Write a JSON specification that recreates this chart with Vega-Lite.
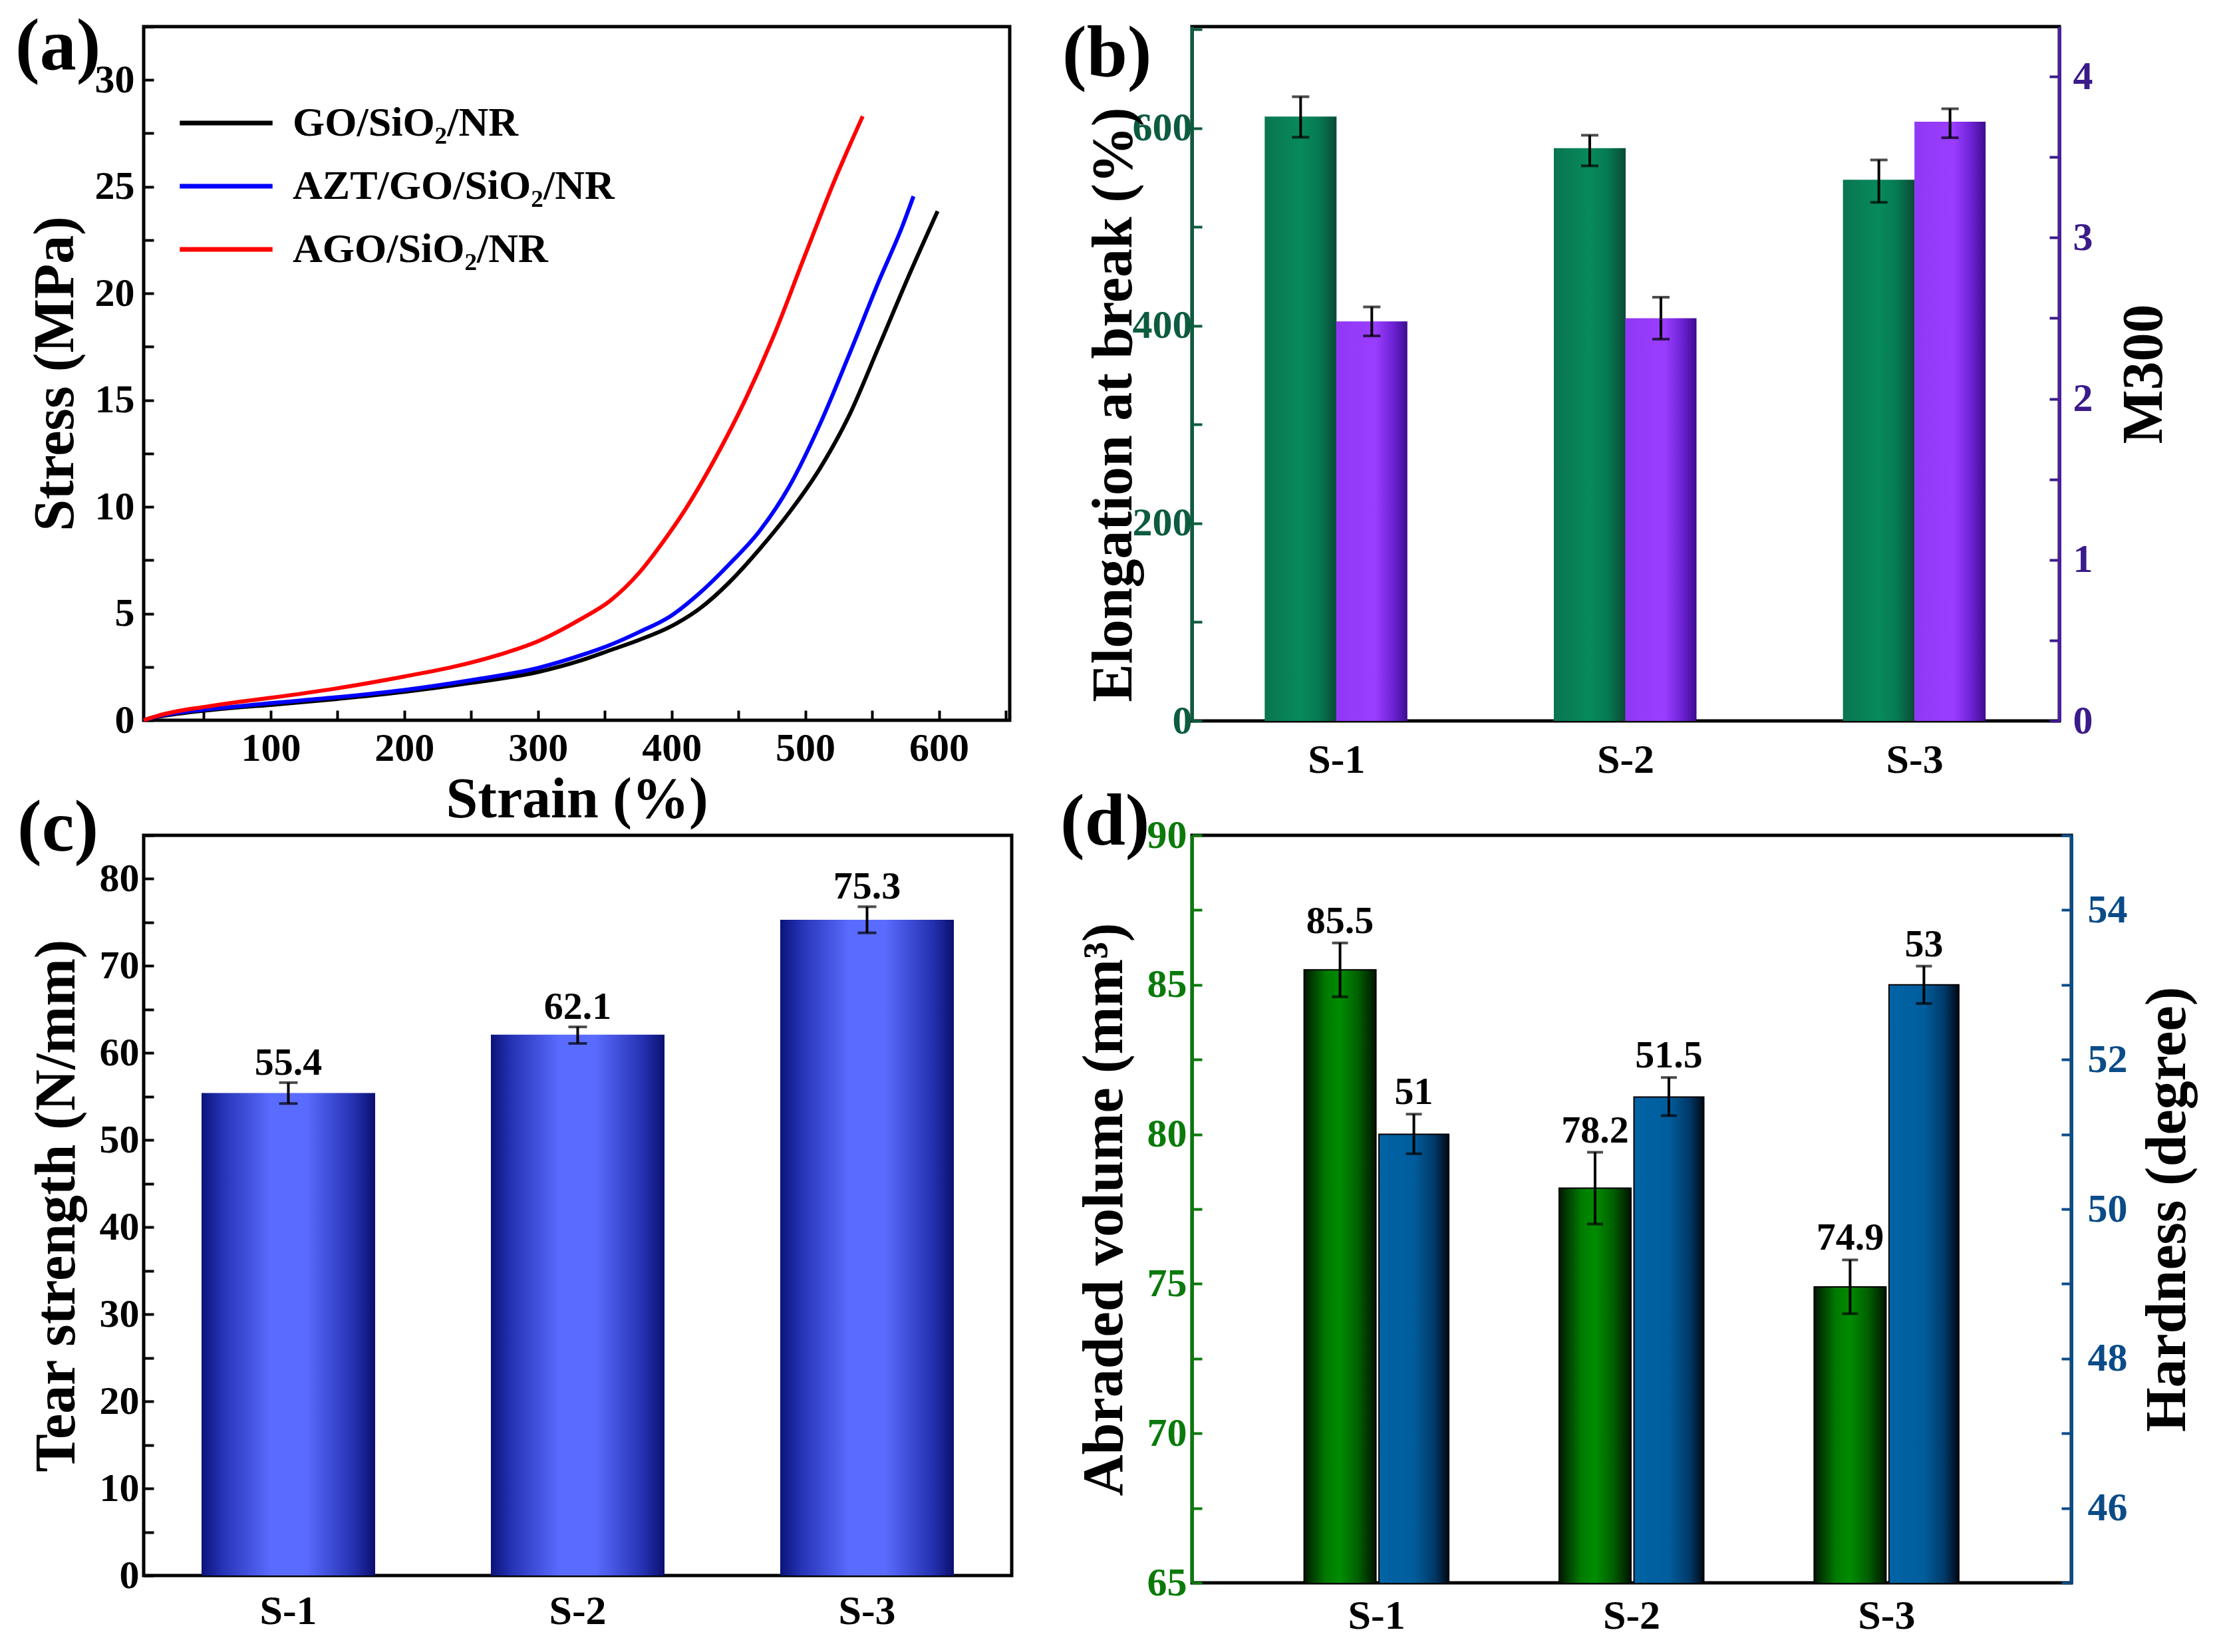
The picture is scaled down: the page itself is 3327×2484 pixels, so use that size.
{
  "$schema": "https://vega.github.io/schema/vega-lite/v6.json",
  "background": "white",
  "padding": {"left": 20, "top": 7, "right": 20, "bottom": 10},
  "bounds": "flush",
  "columns": 2,
  "spacing": {"row": 172, "column": 271},
  "config": {
    "font": "Liberation Serif",
    "view": {"stroke": "black", "strokeWidth": 5},
    "axis": {
      "labelFont": "Liberation Serif", "labelFontWeight": "bold", "labelFontSize": 60, "labelColor": "black",
      "titleFont": "Liberation Serif", "titleFontWeight": "bold", "titleFontSize": 86, "titleColor": "black",
      "grid": false, "tickColor": "black", "tickWidth": 4, "tickSize": -15, "domain": false,
      "labelOverlap": false, "labelFlush": false
    },
    "title": {"font": "Liberation Serif", "fontWeight": "bold", "fontSize": 110, "anchor": "start", "frame": "group", "baseline": "alphabetic", "offset": 0, "color": "black"}
  },
  "concat": [
    {
      "width": 1302, "height": 1043,
      "title": {"text": "(a)", "dx": -193, "dy": 121},
      "data": {"values": [
        {"sample": "GO/SiO₂/NR", "strain": 5, "stress": 0},
        {"sample": "GO/SiO₂/NR", "strain": 15, "stress": 0.15},
        {"sample": "GO/SiO₂/NR", "strain": 30, "stress": 0.3},
        {"sample": "GO/SiO₂/NR", "strain": 50, "stress": 0.45},
        {"sample": "GO/SiO₂/NR", "strain": 75, "stress": 0.6},
        {"sample": "GO/SiO₂/NR", "strain": 100, "stress": 0.72},
        {"sample": "GO/SiO₂/NR", "strain": 150, "stress": 1.0},
        {"sample": "GO/SiO₂/NR", "strain": 200, "stress": 1.33},
        {"sample": "GO/SiO₂/NR", "strain": 250, "stress": 1.75},
        {"sample": "GO/SiO₂/NR", "strain": 300, "stress": 2.26},
        {"sample": "GO/SiO₂/NR", "strain": 332, "stress": 2.8},
        {"sample": "GO/SiO₂/NR", "strain": 354, "stress": 3.28},
        {"sample": "GO/SiO₂/NR", "strain": 376, "stress": 3.77},
        {"sample": "GO/SiO₂/NR", "strain": 399, "stress": 4.38},
        {"sample": "GO/SiO₂/NR", "strain": 421, "stress": 5.23},
        {"sample": "GO/SiO₂/NR", "strain": 443, "stress": 6.45},
        {"sample": "GO/SiO₂/NR", "strain": 466, "stress": 8.03},
        {"sample": "GO/SiO₂/NR", "strain": 488, "stress": 9.73},
        {"sample": "GO/SiO₂/NR", "strain": 511, "stress": 11.8},
        {"sample": "GO/SiO₂/NR", "strain": 533, "stress": 14.3},
        {"sample": "GO/SiO₂/NR", "strain": 555, "stress": 17.5},
        {"sample": "GO/SiO₂/NR", "strain": 578, "stress": 20.9},
        {"sample": "GO/SiO₂/NR", "strain": 599, "stress": 23.85},
        {"sample": "AZT/GO/SiO₂/NR", "strain": 5, "stress": 0},
        {"sample": "AZT/GO/SiO₂/NR", "strain": 15, "stress": 0.18},
        {"sample": "AZT/GO/SiO₂/NR", "strain": 30, "stress": 0.35},
        {"sample": "AZT/GO/SiO₂/NR", "strain": 50, "stress": 0.5},
        {"sample": "AZT/GO/SiO₂/NR", "strain": 75, "stress": 0.65},
        {"sample": "AZT/GO/SiO₂/NR", "strain": 100, "stress": 0.8},
        {"sample": "AZT/GO/SiO₂/NR", "strain": 150, "stress": 1.08},
        {"sample": "AZT/GO/SiO₂/NR", "strain": 200, "stress": 1.42},
        {"sample": "AZT/GO/SiO₂/NR", "strain": 250, "stress": 1.88},
        {"sample": "AZT/GO/SiO₂/NR", "strain": 300, "stress": 2.45},
        {"sample": "AZT/GO/SiO₂/NR", "strain": 332, "stress": 3.04},
        {"sample": "AZT/GO/SiO₂/NR", "strain": 354, "stress": 3.53},
        {"sample": "AZT/GO/SiO₂/NR", "strain": 376, "stress": 4.14},
        {"sample": "AZT/GO/SiO₂/NR", "strain": 399, "stress": 4.87},
        {"sample": "AZT/GO/SiO₂/NR", "strain": 421, "stress": 5.96},
        {"sample": "AZT/GO/SiO₂/NR", "strain": 443, "stress": 7.3},
        {"sample": "AZT/GO/SiO₂/NR", "strain": 466, "stress": 8.88},
        {"sample": "AZT/GO/SiO₂/NR", "strain": 488, "stress": 10.95},
        {"sample": "AZT/GO/SiO₂/NR", "strain": 511, "stress": 13.87},
        {"sample": "AZT/GO/SiO₂/NR", "strain": 533, "stress": 17.15},
        {"sample": "AZT/GO/SiO₂/NR", "strain": 555, "stress": 20.56},
        {"sample": "AZT/GO/SiO₂/NR", "strain": 573, "stress": 23.2},
        {"sample": "AZT/GO/SiO₂/NR", "strain": 581, "stress": 24.55},
        {"sample": "AGO/SiO₂/NR", "strain": 5, "stress": 0},
        {"sample": "AGO/SiO₂/NR", "strain": 15, "stress": 0.2},
        {"sample": "AGO/SiO₂/NR", "strain": 30, "stress": 0.42},
        {"sample": "AGO/SiO₂/NR", "strain": 50, "stress": 0.62},
        {"sample": "AGO/SiO₂/NR", "strain": 75, "stress": 0.85},
        {"sample": "AGO/SiO₂/NR", "strain": 100, "stress": 1.05},
        {"sample": "AGO/SiO₂/NR", "strain": 150, "stress": 1.5},
        {"sample": "AGO/SiO₂/NR", "strain": 200, "stress": 2.05},
        {"sample": "AGO/SiO₂/NR", "strain": 240, "stress": 2.55},
        {"sample": "AGO/SiO₂/NR", "strain": 270, "stress": 3.05},
        {"sample": "AGO/SiO₂/NR", "strain": 300, "stress": 3.7},
        {"sample": "AGO/SiO₂/NR", "strain": 332, "stress": 4.74},
        {"sample": "AGO/SiO₂/NR", "strain": 354, "stress": 5.6},
        {"sample": "AGO/SiO₂/NR", "strain": 376, "stress": 6.93},
        {"sample": "AGO/SiO₂/NR", "strain": 394, "stress": 8.39},
        {"sample": "AGO/SiO₂/NR", "strain": 410, "stress": 9.85},
        {"sample": "AGO/SiO₂/NR", "strain": 432, "stress": 12.2},
        {"sample": "AGO/SiO₂/NR", "strain": 455, "stress": 15.0},
        {"sample": "AGO/SiO₂/NR", "strain": 477, "stress": 18.1},
        {"sample": "AGO/SiO₂/NR", "strain": 499, "stress": 21.65},
        {"sample": "AGO/SiO₂/NR", "strain": 522, "stress": 25.3},
        {"sample": "AGO/SiO₂/NR", "strain": 543, "stress": 28.3}
      ]},
      "mark": {"type": "line", "strokeWidth": 6, "interpolate": "monotone"},
      "encoding": {
        "x": {"field": "strain", "type": "quantitative",
          "scale": {"domain": [5, 653], "nice": false, "zero": false},
          "axis": {"title": "Strain (%)", "values": [50, 100, 150, 200, 250, 300, 350, 400, 450, 500, 550, 600, 650],
            "labelExpr": "datum.value % 100 === 0 ? datum.label : ''", "labelPadding": 28, "titlePadding": 5}},
        "y": {"field": "stress", "type": "quantitative",
          "scale": {"domain": [0, 32.5], "nice": false},
          "axis": {"title": "Stress (MPa)", "values": [0, 2.5, 5, 7.5, 10, 12.5, 15, 17.5, 20, 22.5, 25, 27.5, 30, 32.5],
            "labelExpr": "datum.value % 5 === 0 ? datum.label : ''", "labelPadding": 29, "titlePadding": 15}},
        "color": {"field": "sample", "type": "nominal",
          "scale": {"domain": ["GO/SiO₂/NR", "AZT/GO/SiO₂/NR", "AGO/SiO₂/NR"], "range": ["#000000", "#0000ff", "#ff0000"]},
          "legend": {"title": null, "orient": "none", "legendX": 51, "legendY": 95, "padding": 0,
            "symbolType": "M-1.5,0H1.5", "symbolSize": 8649, "symbolStrokeWidth": 7, "symbolOffset": 23,
            "labelOffset": 50, "rowPadding": 14, "labelLimit": 0,
            "labelFont": "Liberation Serif", "labelFontWeight": "bold", "labelFontSize": 62, "labelColor": "black"}}
      }
    },
    {
      "width": 1304, "height": 1044,
      "title": {"text": "(b)", "dx": -195, "dy": 128},
      "data": {"values": [
        {"sample": "S-1", "prop": "EB", "v": 612, "lo": 591, "hi": 632},
        {"sample": "S-1", "prop": "M300", "v": 2.48, "lo": 2.39, "hi": 2.57},
        {"sample": "S-2", "prop": "EB", "v": 580, "lo": 562, "hi": 593},
        {"sample": "S-2", "prop": "M300", "v": 2.5, "lo": 2.37, "hi": 2.63},
        {"sample": "S-3", "prop": "EB", "v": 548, "lo": 525, "hi": 568},
        {"sample": "S-3", "prop": "M300", "v": 3.72, "lo": 3.62, "hi": 3.8}
      ]},
      "encoding": {
        "x": {"field": "sample", "type": "nominal", "scale": {"paddingInner": 0.5, "paddingOuter": 0.25},
          "axis": {"title": null, "labelAngle": 0, "ticks": false, "labelFontSize": 62, "labelPadding": 28}}
      },
      "layer": [
        {
          "transform": [{"filter": "datum.prop === 'EB'"}],
          "layer": [
            {"mark": {"type": "bar", "width": 108, "xOffset": -54, "fill": {"gradient": "linear", "x1": 0, "y1": 0, "x2": 1, "y2": 0,
              "stops": [{"offset": 0, "color": "#0a7550"}, {"offset": 0.5, "color": "#078a5c"}, {"offset": 0.75, "color": "#067a52"}, {"offset": 1, "color": "#0a4a35"}]}},
             "encoding": {"y": {"field": "v", "type": "quantitative", "scale": {"domain": [0, 703], "nice": false},
               "axis": {"title": "Elongation at break (%)", "orient": "left", "values": [0, 100, 200, 300, 400, 500, 600, 700],
                 "labelExpr": "datum.value % 200 === 0 ? datum.label : ''", "labelColor": "#0d5c3f", "tickColor": "#0d5c3f",
                 "domain": true, "domainColor": "#0d5c3f", "domainWidth": 5, "labelPadding": 15, "titlePadding": -16, "titleY": 568}}}},
            {"mark": {"type": "rule", "strokeWidth": 4, "color": "black", "xOffset": -54},
             "encoding": {"y": {"field": "lo", "type": "quantitative"}, "y2": {"field": "hi"}}},
            {"mark": {"type": "tick", "thickness": 4, "size": 26, "color": "black", "xOffset": -54},
             "encoding": {"y": {"field": "lo", "type": "quantitative"}}},
            {"mark": {"type": "tick", "thickness": 4, "size": 26, "color": "black", "xOffset": -54},
             "encoding": {"y": {"field": "hi", "type": "quantitative"}}}
          ]
        },
        {
          "transform": [{"filter": "datum.prop === 'M300'"}],
          "layer": [
            {"mark": {"type": "bar", "width": 107, "xOffset": 53, "fill": {"gradient": "linear", "x1": 0, "y1": 0, "x2": 1, "y2": 0,
              "stops": [{"offset": 0, "color": "#9038f5"}, {"offset": 0.55, "color": "#9a3dff"}, {"offset": 0.8, "color": "#6d22d4"}, {"offset": 1, "color": "#3d0c8e"}]}},
             "encoding": {"y": {"field": "v", "type": "quantitative", "scale": {"domain": [0, 4.31], "nice": false},
               "axis": {"title": "M300", "orient": "right", "values": [0, 0.5, 1, 1.5, 2, 2.5, 3, 3.5, 4],
                 "labelExpr": "datum.value % 1 === 0 ? format(datum.value, 'd') : ''", "labelColor": "#3b1a8a", "tickColor": "#3b1a8a",
                 "domain": true, "domainColor": "#4a1f9e", "domainWidth": 5, "labelPadding": 35, "titlePadding": 35,
                 "titleAngle": -90, "titleBaseline": "top"}}}},
            {"mark": {"type": "rule", "strokeWidth": 4, "color": "black", "xOffset": 53},
             "encoding": {"y": {"field": "lo", "type": "quantitative"}, "y2": {"field": "hi"}}},
            {"mark": {"type": "tick", "thickness": 4, "size": 26, "color": "black", "xOffset": 53},
             "encoding": {"y": {"field": "lo", "type": "quantitative"}}},
            {"mark": {"type": "tick", "thickness": 4, "size": 26, "color": "black", "xOffset": 53},
             "encoding": {"y": {"field": "hi", "type": "quantitative"}}}
          ]
        }
      ],
      "resolve": {"scale": {"y": "independent"}, "axis": {"y": "independent"}}
    },
    {
      "width": 1305, "height": 1113,
      "title": {"text": "(c)", "dx": -190, "dy": 80},
      "data": {"values": [
        {"sample": "S-1", "v": 55.4, "lo": 54.2, "hi": 56.6},
        {"sample": "S-2", "v": 62.1, "lo": 61.1, "hi": 63.0},
        {"sample": "S-3", "v": 75.3, "lo": 73.8, "hi": 76.8}
      ]},
      "encoding": {
        "x": {"field": "sample", "type": "nominal", "scale": {"paddingInner": 0.4, "paddingOuter": 0.2},
          "axis": {"title": null, "labelAngle": 0, "ticks": false, "labelFontSize": 62, "labelPadding": 23}}
      },
      "layer": [
        {"mark": {"type": "bar", "fill": {"gradient": "linear", "x1": 0, "y1": 0, "x2": 1, "y2": 0,
          "stops": [{"offset": 0, "color": "#0b137a"}, {"offset": 0.12, "color": "#2533b5"}, {"offset": 0.4, "color": "#5a6cff"}, {"offset": 0.6, "color": "#5a6cff"}, {"offset": 0.88, "color": "#2430b0"}, {"offset": 1, "color": "#0a0f6e"}]}},
         "encoding": {"y": {"field": "v", "type": "quantitative", "scale": {"domain": [0, 85], "nice": false},
           "axis": {"title": "Tear strength (N/mm)", "values": [0, 5, 10, 15, 20, 25, 30, 35, 40, 45, 50, 55, 60, 65, 70, 75, 80, 85],
             "labelExpr": "datum.value % 10 === 0 ? datum.label : ''", "labelPadding": 22, "titlePadding": 20}}}},
        {"mark": {"type": "rule", "strokeWidth": 4, "color": "black"},
         "encoding": {"y": {"field": "lo", "type": "quantitative"}, "y2": {"field": "hi"}}},
        {"mark": {"type": "tick", "thickness": 4, "size": 28, "color": "black"},
         "encoding": {"y": {"field": "lo", "type": "quantitative"}}},
        {"mark": {"type": "tick", "thickness": 4, "size": 28, "color": "black"},
         "encoding": {"y": {"field": "hi", "type": "quantitative"}}},
        {"mark": {"type": "text", "font": "Liberation Serif", "fontWeight": "bold", "fontSize": 58, "baseline": "alphabetic", "dy": -12, "color": "black"},
         "encoding": {"y": {"field": "hi", "type": "quantitative"}, "text": {"field": "v", "type": "nominal"}}}
      ]
    },
    {
      "width": 1322, "height": 1124,
      "title": {"text": "(d)", "dx": -198, "dy": 71},
      "data": {"values": [
        {"sample": "S-1", "prop": "abr", "v": 85.5, "lo": 84.6, "hi": 86.4},
        {"sample": "S-1", "prop": "hard", "v": 51, "lo": 50.74, "hi": 51.27},
        {"sample": "S-2", "prop": "abr", "v": 78.2, "lo": 77.0, "hi": 79.4},
        {"sample": "S-2", "prop": "hard", "v": 51.5, "lo": 51.25, "hi": 51.76},
        {"sample": "S-3", "prop": "abr", "v": 74.9, "lo": 74.0, "hi": 75.8},
        {"sample": "S-3", "prop": "hard", "v": 53, "lo": 52.75, "hi": 53.25}
      ]},
      "encoding": {
        "x": {"field": "sample", "type": "nominal", "scale": {"paddingInner": 0.4, "paddingOuter": 0.424},
          "axis": {"title": null, "labelAngle": 0, "ticks": false, "labelFontSize": 62, "labelPadding": 19}}
      },
      "layer": [
        {
          "transform": [{"filter": "datum.prop === 'abr'"}],
          "layer": [
            {"mark": {"type": "bar", "clip": true, "width": 108, "xOffset": -55, "stroke": "black", "strokeWidth": 2, "fill": {"gradient": "linear", "x1": 0, "y1": 0, "x2": 1, "y2": 0,
              "stops": [{"offset": 0, "color": "#001800"}, {"offset": 0.3, "color": "#007a00"}, {"offset": 0.5, "color": "#008c00"}, {"offset": 0.75, "color": "#006000"}, {"offset": 1, "color": "#001400"}]}},
             "encoding": {"y": {"field": "v", "type": "quantitative", "scale": {"domain": [65, 90], "nice": false, "zero": false},
               "axis": {"title": "Abraded volume (mm³)", "orient": "left", "values": [65, 67.5, 70, 72.5, 75, 77.5, 80, 82.5, 85, 87.5, 90],
                 "labelExpr": "datum.value % 5 === 0 ? datum.label : ''", "labelColor": "#0b7a0b", "tickColor": "#0b7a0b",
                 "domain": true, "domainColor": "#0b7a0b", "domainWidth": 5, "labelPadding": 23, "titlePadding": 20}}}},
            {"mark": {"type": "rule", "strokeWidth": 4, "color": "black", "xOffset": -55},
             "encoding": {"y": {"field": "lo", "type": "quantitative"}, "y2": {"field": "hi"}}},
            {"mark": {"type": "tick", "thickness": 4, "size": 24, "color": "black", "xOffset": -55},
             "encoding": {"y": {"field": "lo", "type": "quantitative"}}},
            {"mark": {"type": "tick", "thickness": 4, "size": 24, "color": "black", "xOffset": -55},
             "encoding": {"y": {"field": "hi", "type": "quantitative"}}}
          ]
        },
        {
          "transform": [{"filter": "datum.prop === 'hard'"}],
          "layer": [
            {"mark": {"type": "bar", "clip": true, "width": 105, "xOffset": 56, "stroke": "black", "strokeWidth": 2, "fill": {"gradient": "linear", "x1": 0, "y1": 0, "x2": 1, "y2": 0,
              "stops": [{"offset": 0, "color": "#0064a6"}, {"offset": 0.5, "color": "#005d9c"}, {"offset": 0.8, "color": "#003866"}, {"offset": 1, "color": "#000814"}]}},
             "encoding": {"y": {"field": "v", "type": "quantitative", "scale": {"domain": [45, 55], "nice": false, "zero": false},
               "axis": {"title": "Hardness (degree)", "orient": "right", "values": [45, 46, 47, 48, 49, 50, 51, 52, 53, 54, 55],
                 "labelExpr": "datum.value % 2 === 0 ? format(datum.value, 'd') : ''", "labelColor": "#0b4c88", "tickColor": "#0b4c88",
                 "domain": true, "domainColor": "#0b4c88", "domainWidth": 5, "labelPadding": 39, "titlePadding": 18,
                 "titleAngle": -90, "titleBaseline": "top"}}}},
            {"mark": {"type": "rule", "strokeWidth": 4, "color": "black", "xOffset": 56},
             "encoding": {"y": {"field": "lo", "type": "quantitative"}, "y2": {"field": "hi"}}},
            {"mark": {"type": "tick", "thickness": 4, "size": 24, "color": "black", "xOffset": 56},
             "encoding": {"y": {"field": "lo", "type": "quantitative"}}},
            {"mark": {"type": "tick", "thickness": 4, "size": 24, "color": "black", "xOffset": 56},
             "encoding": {"y": {"field": "hi", "type": "quantitative"}}}
          ]
        },
        {
          "transform": [{"filter": "datum.prop === 'abr'"}],
          "mark": {"type": "text", "font": "Liberation Serif", "fontWeight": "bold", "fontSize": 58, "baseline": "alphabetic", "dy": -15, "xOffset": -55, "color": "black"},
          "encoding": {"y": {"field": "hi", "type": "quantitative", "scale": {"domain": [65, 90], "nice": false, "zero": false}, "axis": null}, "text": {"field": "v", "type": "nominal"}}
        },
        {
          "transform": [{"filter": "datum.prop === 'hard'"}],
          "mark": {"type": "text", "font": "Liberation Serif", "fontWeight": "bold", "fontSize": 58, "baseline": "alphabetic", "dy": -15, "xOffset": 56, "color": "black"},
          "encoding": {"y": {"field": "hi", "type": "quantitative", "scale": {"domain": [45, 55], "nice": false, "zero": false}, "axis": null}, "text": {"field": "v", "type": "nominal"}}
        }
      ],
      "resolve": {"scale": {"y": "independent"}, "axis": {"y": "independent"}}
    }
  ]
}
